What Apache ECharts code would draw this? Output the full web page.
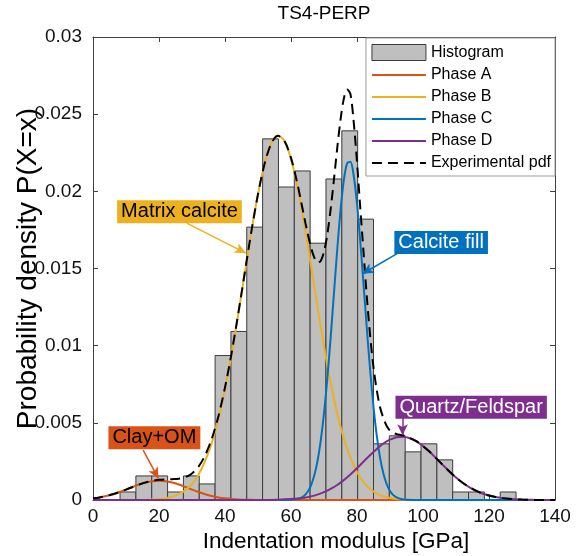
<!DOCTYPE html>
<html><head><meta charset="utf-8">
<script src="https://cdn.jsdelivr.net/npm/echarts@6/dist/echarts.min.js"></script>
<style>html,body{margin:0;padding:0;background:#fff}#c{width:583px;height:556px}</style>
</head><body><div id="c"></div>
<script>
const titleText = 'TS4-PERP';
const xAxisName = 'Indentation modulus [GPa]';
const yAxisName = 'Probability density P(X=x)';
const xTickLabels = ['0','20','40','60','80','100','120','140'];
const yTickLabels = ['0','0.005','0.01','0.015','0.02','0.025','0.03'];
const legendNames = ['Histogram','Phase A','Phase B','Phase C','Phase D','Experimental pdf'];

// histogram: 25 bins
const binEdges = [8.2,13.0,17.8,22.6,27.4,32.2,37.0,41.8,46.6,51.4,56.2,61.0,65.8,70.6,75.4,80.2,85.0,89.8,94.6,99.4,104.2,109.0,113.8,118.6,123.4,128.2];
const histDensity = [0.00052,0.00156,0.00156,0.00052,0.00156,0.00104,0.00936,0.01092,0.01768,0.0234,0.02028,0.02132,0.01664,0.0208,0.02392,0.0182,0.00364,0.00416,0.00312,0.00364,0.0026,0.00052,0.00052,0,0.00052];

// Phase A (Clay+OM)
const phaseAx = [0,2,4,6,8,10,12,14,16,18,20,22,24,26,28,30,32,34,36,38,40,42,44,46,48,50,60,140];
const phaseAy = [0.000106,0.000169,0.000257,0.000373,0.000514,0.000674,0.000842,0.001001,0.001132,0.00122,0.00125,0.00122,0.001132,0.001001,0.000842,0.000674,0.000514,0.000373,0.000257,0.000169,0.000106,0.000063,0.000036,0.000019,0.00001,0.000005,0,0];

// Phase B (Matrix calcite)
const phaseBx = [0,16,20,22,24,26,28,30,32,34,36,38,40,42,44,46,48,50,52,54,56,58,60,62,64,66,68,70,72,74,76,78,80,82,84,86,88,90,92,94,96,98,110,140];
const phaseBy = [0,0.00001,0.000062,0.000117,0.000214,0.000377,0.000641,0.00105,0.00166,0.00253,0.00371,0.00526,0.00718,0.00946,0.01202,0.01472,0.0174,0.01982,0.02179,0.02309,0.0236,0.02326,0.0221,0.02026,0.01791,0.01527,0.01255,0.00995,0.00761,0.00561,0.00399,0.00274,0.00181,0.00115,0.00071,0.00042,0.00024,0.000133,0.00007,0.000036,0.000017,0.000008,0,0];

// Phase C (Calcite fill)
const phaseCx = [0,55,60,62,63,64,65,66,67,68,69,70,71,72,73,74,75,76,77,78,79,80,81,82,83,84,85,86,87,88,89,90,91,92,93,95,100,140];
const phaseCy = [0,0,0.000015,0.00007,0.000143,0.000278,0.000516,0.000915,0.00155,0.00249,0.00383,0.00562,0.00786,0.01049,0.01334,0.0162,0.01875,0.02071,0.02181,0.02192,0.02101,0.0192,0.01674,0.01392,0.01105,0.00836,0.00603,0.00415,0.00273,0.00171,0.00102,0.00058,0.000316,0.000164,0.000081,0.000017,0,0];

// Phase D (Quartz/Feldspar)
const phaseDx = [0,45,52,56,60,62,64,66,68,70,72,74,76,78,80,82,84,86,88,90,92,94,96,98,100,102,104,106,108,110,112,114,116,118,120,122,124,126,128,130,132,134,140];
const phaseDy = [0,0,0.000006,0.00002,0.000059,0.000096,0.000153,0.000235,0.000351,0.000508,0.000714,0.000974,0.00129,0.00165,0.00206,0.00249,0.00291,0.00331,0.00366,0.00391,0.00407,0.0041,0.004,0.0038,0.00349,0.00312,0.0027,0.00227,0.00185,0.00146,0.00112,0.00084,0.000605,0.000424,0.000288,0.00019,0.000122,0.000076,0.000046,0.000027,0.000015,0.000008,0.000001];

// Experimental pdf
const expX = [0,2,4,6,8,10,12,14,16,18,20,22,24,26,28,30,32,34,36,38,40,42,44,46,48,50,52,54,56,58,60,62,63,64,65,66,67,68,69,70,71,72,73,74,75,76,77,78,79,80,81,82,83,84,85,86,87,88,89,90,91,92,94,96,98,100,102,104,106,108,110,112,114,116,118,120,122,124,126,128,130,132,134,140];
const expY = [0.000106,0.000169,0.000257,0.000373,0.000514,0.000674,0.000842,0.001001,0.001142,0.00124,0.00131,0.00134,0.00135,0.00138,0.00148,0.00172,0.00217,0.0029,0.00397,0.00543,0.00729,0.00952,0.01206,0.01474,0.01741,0.01982,0.02179,0.02309,0.0236,0.02327,0.02217,0.02043,0.0194,0.01834,0.01732,0.01642,0.01574,0.01539,0.01549,0.01608,0.0172,0.01881,0.02074,0.02278,0.02463,0.02599,0.0266,0.02631,0.0245,0.0219,0.0189,0.016,0.0131,0.0106,0.0086,0.0071,0.006,0.0053,0.0048,0.0045,0.00435,0.00427,0.00418,0.00402,0.00381,0.00349,0.00312,0.0027,0.00227,0.00185,0.00146,0.00112,0.00084,0.000605,0.000424,0.000288,0.00019,0.000122,0.000076,0.000046,0.000027,0.000015,0.000008,0.000001];

// annotation texts
const annoTexts = ['Matrix calcite','Calcite fill','Quartz/Feldspar','Clay+OM'];

const FONT = '"Liberation Sans", Arial, Helvetica, sans-serif';
const C = {A:'#D95319', B:'#EDB120', Cc:'#0072BD', D:'#7E2F8E', E:'#000000', hist:'#BFBFBF', edge:'#3C3C3C', axis:'#404040'};

// annotation layout (data-space anchors)
const annoLayout = [
  {center:[26.2,0.01867], from:[28.4,0.01794], to:[46.3,0.0160], fill:'#EDB120', color:'#000', series:'Phase B'},
  {center:[105.5,0.01668], from:[92.4,0.0160], to:[81.7,0.01466], fill:'#0072BD', color:'#fff', series:'Phase C'},
  {center:[114.6,0.00601], from:[93.8,0.00535], to:[93.8,0.0042], fill:'#7E2F8E', color:'#fff', series:'Phase D'},
  {center:[18.6,0.00404], from:[15.2,0.00323], to:[19.8,0.0014], fill:'#D95319', color:'#000', series:'Phase A'}
];

const zip = (xs, ys) => xs.map((x, i) => [x, ys[i]]);
function arrowFor(name, color){
  const a = annoLayout.find(o => o.series === name);
  return {
    silent: true, symbol: ['none','arrow'], symbolSize: [8, 11], animation: false,
    label: {show: false}, emphasis: {disabled: true},
    lineStyle: {color: color, width: 1.5, type: 'solid'},
    data: [[{coord: a.from}, {coord: a.to}]]
  };
}
function lineSeries(name, xs, ys, color, dashed){
  const s = {
    name: name, type: 'line', data: zip(xs, ys), showSymbol: false, symbol: 'none',
    smooth: 0.3, lineStyle: {color: color, width: 2, type: dashed ? [10, 6] : 'solid'},
    itemStyle: {color: color}, emphasis: {disabled: true}, z: dashed ? 4 : 3, animation: false
  };
  if (!dashed) s.markLine = arrowFor(name, color);
  return s;
}

const chart = echarts.init(document.getElementById('c'), null, {renderer: 'canvas'});
const histData = histDensity.map((h, i) => [binEdges[i], binEdges[i + 1], h]);

const axisCommon = {
  axisLine: {show: true, onZero: false, lineStyle: {color: C.axis, width: 1}},
  axisTick: {show: true, inside: true, length: 5, lineStyle: {color: C.axis}},
  splitLine: {show: false}
};
const hiddenSymbol = {opacity: 0, color: 'rgba(0,0,0,0)', borderWidth: 0};

chart.setOption({
  animation: false,
  backgroundColor: '#fff',
  textStyle: {fontFamily: FONT},
  title: {text: titleText, left: 324, top: 4, textAlign: 'center', padding: 0,
          textStyle: {fontFamily: FONT, fontSize: 19, fontWeight: 'normal', color: '#000'}},
  grid: {left: 93, right: 28, top: 37, bottom: 56, containLabel: false, outerBoundsMode: 'none'},
  legend: {
    orient: 'vertical', right: 28, top: 38, padding: [6, 4, 5, 5], itemGap: 6,
    itemWidth: 54, itemHeight: 16, itemTextGap: 5,
    backgroundColor: '#fff', borderColor: '#9a9a9a', borderWidth: 1, borderRadius: 0,
    textStyle: {fontFamily: FONT, fontSize: 16, color: '#000'},
    data: [
      {name: legendNames[0], icon: 'rect', itemStyle: {color: C.hist, borderColor: C.edge, borderWidth: 1}},
      {name: legendNames[1], itemStyle: hiddenSymbol},
      {name: legendNames[2], itemStyle: hiddenSymbol},
      {name: legendNames[3], itemStyle: hiddenSymbol},
      {name: legendNames[4], itemStyle: hiddenSymbol},
      {name: legendNames[5], itemStyle: hiddenSymbol}
    ]
  },
  xAxis: [
    Object.assign({type: 'value', min: 0, max: 140, interval: 20, position: 'bottom',
      name: xAxisName, nameLocation: 'middle', nameGap: 30, nameMoveOverlap: false,
      nameTextStyle: {fontFamily: FONT, fontSize: 22.5, color: '#000', padding: [0, 0, 0, 24]},
      axisLabel: {margin: 7, fontSize: 19, color: '#111', fontFamily: FONT,
        formatter: v => xTickLabels[Math.round(v / 20)]}}, axisCommon),
    Object.assign({type: 'value', min: 0, max: 140, interval: 20, position: 'top',
      axisLabel: {show: false}}, axisCommon)
  ],
  yAxis: [
    Object.assign({type: 'value', min: 0, max: 0.03, interval: 0.005, position: 'left',
      name: yAxisName, nameLocation: 'middle', nameGap: 51, nameRotate: 90, nameMoveOverlap: false,
      nameTextStyle: {fontFamily: FONT, fontSize: 28, color: '#000'},
      axisLabel: {margin: 11, fontSize: 19, color: '#111', fontFamily: FONT,
        formatter: v => yTickLabels[Math.round(v / 0.005)]}}, axisCommon),
    Object.assign({type: 'value', min: 0, max: 0.03, interval: 0.005, position: 'right',
      axisLabel: {show: false}}, axisCommon)
  ],
  series: [
    {
      name: legendNames[0], type: 'custom', data: histData, z: 2,
      encode: {x: [0, 1], y: 2},
      itemStyle: {color: C.hist, borderColor: C.edge, borderWidth: 1},
      renderItem: function (params, api) {
        const h = api.value(2);
        if (!(h > 0)) return null;
        const p0 = api.coord([api.value(0), 0]);
        const p1 = api.coord([api.value(1), h]);
        return {type: 'rect',
          shape: {x: p0[0], y: p1[1], width: p1[0] - p0[0], height: p0[1] - p1[1]},
          style: {fill: C.hist, stroke: C.edge, lineWidth: 1}};
      }
    },
    lineSeries(legendNames[1], phaseAx, phaseAy, C.A, false),
    lineSeries(legendNames[2], phaseBx, phaseBy, C.B, false),
    lineSeries(legendNames[3], phaseCx, phaseCy, C.Cc, false),
    lineSeries(legendNames[4], phaseDx, phaseDy, C.D, false),
    lineSeries(legendNames[5], expX, expY, C.E, true)
  ]
});

// annotation text boxes positioned via the grid's scales
const graphics = annoLayout.map((a, i) => {
  const p = chart.convertToPixel({gridIndex: 0}, a.center);
  return {
    type: 'text', x: p[0], y: p[1], z: 100,
    style: {text: annoTexts[i], fill: a.color, font: '20px ' + FONT,
      backgroundColor: a.fill, padding: [2, 4, 1, 4], lineHeight: 20,
      align: 'center', verticalAlign: 'middle'}
  };
});
chart.setOption({graphic: graphics});
</script>
</body></html>
